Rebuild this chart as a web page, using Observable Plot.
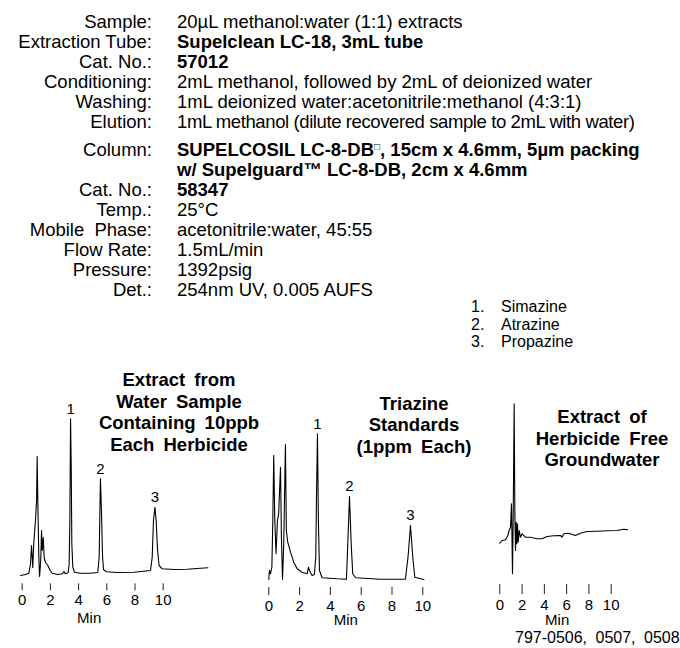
<!DOCTYPE html>
<html>
<head>
<meta charset="utf-8">
<script src="https://cdn.jsdelivr.net/npm/d3@7"></script>
<script src="https://cdn.jsdelivr.net/npm/@observablehq/plot@0.6"></script>
<style>
  html, body { margin: 0; padding: 0; background: #fff; }
  #page { position: relative; width: 680px; height: 648px; overflow: hidden;
          font-family: "Liberation Sans", Arial, sans-serif; color: #000; }
  .row { position: absolute; left: 0; width: 680px; height: 20px; line-height: 20px;
         font-size: 18.5px; white-space: nowrap; }
  .lab { position: absolute; left: 0; width: 152px; text-align: right; }
  .val { position: absolute; left: 177px; }
  .b { font-weight: bold; }
  .leg { position: absolute; font-size: 16px; line-height: 17.5px; white-space: nowrap; }
  .title { position: absolute; width: 220px; text-align: center; font-weight: bold;
           font-size: 18.5px; line-height: 21.5px; word-spacing: 4px; }
  .foot { position: absolute; left: 515px; top: 628px; font-size: 16px; line-height: 20px;
          word-spacing: 4px; white-space: nowrap; }
  svg { position: absolute; overflow: visible; }
</style>
</head>
<body>
<div id="page"></div>
<script>
// ---------- header text ----------
const headerLabels = ["Sample:", "Extraction Tube:", "Cat. No.:", "Conditioning:", "Washing:", "Elution:",
  "Column:", "", "Cat. No.:", "Temp.:", "Mobile Phase:", "Flow Rate:", "Pressure:", "Det.:"];
const headerValues = ["20µL methanol:water (1:1) extracts", "Supelclean LC-18, 3mL tube", "57012",
  "2mL methanol, followed by 2mL of deionized water", "1mL deionized water:acetonitrile:methanol (4:3:1)",
  "1mL methanol (dilute recovered sample to 2mL with water)",
  "SUPELCOSIL LC-8-DB|□|, 15cm x 4.6mm, 5µm packing", "w/ Supelguard™ LC-8-DB, 2cm x 4.6mm", "58347",
  "25°C", "acetonitrile:water, 45:55", "1.5mL/min", "1392psig", "254nm UV, 0.005 AUFS"];
const headerBold = [false, true, true, false, false, false, true, true, true, false, false, false, false, false];

const legendNumbers = ["1.", "2.", "3."];
const legendNames = ["Simazine", "Atrazine", "Propazine"];

const panelTitles = [
  ["Extract from", "Water Sample", "Containing 10ppb", "Each Herbicide"],
  ["Triazine", "Standards", "(1ppm Each)"],
  ["Extract of", "Herbicide Free", "Groundwater"]
];
const footnote = "797-0506, 0507, 0508";
const axisTicks = [0, 2, 4, 6, 8, 10];
const axisLabel = "Min";

// ---------- chromatogram data (time in min, detector response in arbitrary units) ----------
const p1Time = [-0.12,0.24,0.47,0.59,0.66,0.71,0.75,0.82,0.94,1.02,1.06,1.11,1.18,1.23,1.28,1.32,1.37,1.42,1.49,1.56,1.65,1.82,1.96,2.13,2.49,2.84,2.96,3.05,3.26,3.33,3.38,3.43,3.48,3.52,3.59,3.71,4.13,4.84,5.36,5.46,5.51,5.55,5.62,5.70,5.77,5.98,6.74,7.92,9.10,9.22,9.31,9.41,9.50,9.60,9.71,9.93,10.75,11.70,12.64,13.17];
const p1Resp = [-1,0,1.3,10.7,29,17,7,30.7,54,74,118,70.7,17.3,-2,7,17,44,24,37,17,12,9,4.7,1.3,0,0.7,3,0.7,1.7,10.7,54,155.7,104,30.7,7.3,2.3,1.3,1.3,2,17.3,64,95.7,64,17.3,4.7,2.7,2,2.3,4,17.3,54,67.3,54,24,9,5.7,5,5.3,6.3,6.7];
const p1PeakTime = [3.43, 5.55, 9.41];
const p1PeakResp = [155.7, 95.7, 67.3];

const p2Time = [0.00,0.04,0.11,0.20,0.26,0.32,0.39,0.47,0.56,0.64,0.76,0.82,0.89,0.97,1.08,1.14,1.23,1.41,1.62,1.84,2.16,2.49,2.58,2.64,2.81,2.96,3.05,3.09,3.16,3.22,3.29,3.46,4.44,5.04,5.13,5.24,5.35,5.45,5.63,7.25,8.87,9.04,9.20,9.35,9.48,10.07];
const p2Resp = [0,9,5.7,12.3,59,124,59,25.7,59,65.7,112.3,42.3,0,35.7,135,49,37.3,27.3,17.3,10.7,7.3,5.7,12.3,9,4,5,22.3,75.7,145.7,59,9,1.7,0.7,0.3,35.7,83,35.7,5.7,1.7,0.3,0.3,22.3,54,22.3,2.3,0];
const p2PeakTime = [3.16, 5.24, 9.20];
const p2PeakResp = [145.7, 83, 54];

const p3Time = [0.00,0.21,0.51,0.72,0.84,0.96,1.05,1.14,1.20,1.29,1.35,1.41,1.47,1.53,1.59,1.65,1.74,1.85,2.00,2.30,2.75,3.34,3.79,4.24,4.84,5.44,5.59,5.74,6.19,6.79,7.24,7.83,8.73,9.63,10.52,11.12,11.48];
const p3Resp = [-2.7,0,0.7,5,10,13.3,36.7,-33.3,20,136.7,30,-10,18.3,-3.3,16.7,-1.7,10,3.3,6.7,3.3,3.3,1.7,1.7,4,4.7,5,3.3,6.7,7.3,5,7.3,9,9.3,9.7,10,11.3,10.7];

const peakNames = ["1", "2", "3"];

// ---------- build page ----------
const page = document.getElementById("page");
const rowTops = headerLabels.map((_, i) => 11.7 + i * 20 + (i >= 6 ? 8.3 : 0));
const rowLetterSpacing = [0, 0, 0, 0, 0, -0.4, 0, 0, 0, 0, 0, 0, 0, 0];
const labelWordSpacing = [0, 0, 0, 0, 0, 0, 0, 0, 0, 0, 5, 0, 0, 0];

headerLabels.forEach((lab, i) => {
  const row = document.createElement("div");
  row.className = "row";
  row.style.top = rowTops[i] + "px";
  const l = document.createElement("span");
  l.className = "lab";
  l.textContent = lab;
  l.style.wordSpacing = labelWordSpacing[i] + "px";
  const v = document.createElement("span");
  v.className = "val" + (headerBold[i] ? " b" : "");
  v.style.letterSpacing = rowLetterSpacing[i] + "px";
  const parts = headerValues[i].split("|");
  parts.forEach((p, k) => {
    if (k === 1) {
      const s = document.createElement("sup");
      s.textContent = p;
      s.style.fontSize = "10px";
      s.style.fontWeight = "normal";
      s.style.verticalAlign = "6px";
      s.style.lineHeight = "0";
      v.appendChild(s);
    } else {
      v.appendChild(document.createTextNode(p));
    }
  });
  row.appendChild(l);
  row.appendChild(v);
  page.appendChild(row);
});

legendNumbers.forEach((n, i) => {
  const top = 298 + i * 17.5;
  const a = document.createElement("div");
  a.className = "leg"; a.style.left = "471px"; a.style.top = top + "px"; a.textContent = n;
  const b = document.createElement("div");
  b.className = "leg"; b.style.left = "501px"; b.style.top = top + "px"; b.textContent = legendNames[i];
  page.appendChild(a); page.appendChild(b);
});

const titleCenters = [179, 414, 602];
const titleTops = [369.3, 392.5, 406];
panelTitles.forEach((lines, i) => {
  const d = document.createElement("div");
  d.className = "title";
  d.style.left = (titleCenters[i] - 110) + "px";
  d.style.top = titleTops[i] + "px";
  lines.forEach((s, k) => {
    if (k) d.appendChild(document.createElement("br"));
    d.appendChild(document.createTextNode(s));
  });
  page.appendChild(d);
});

const foot = document.createElement("div");
foot.className = "foot";
foot.textContent = footnote;
page.appendChild(foot);

// ---------- chromatograms ----------
function toRows(ts, rs, names) {
  return ts.map((t, i) => ({t, r: rs[i], n: names ? names[i] : null}));
}

const panels = [
  {trace: toRows(p1Time, p1Resp), peaks: toRows(p1PeakTime, p1PeakResp, peakNames),
   left: 0, top: 370, w: 230, h: 260, x0: 21.7, x10: 162.7, base: 204, mb: 46.7, ts: 7, tp: 4, mdy: 34, mx: 4.75},
  {trace: toRows(p2Time, p2Resp), peaks: toRows(p2PeakTime, p2PeakResp, peakNames),
   left: 230, top: 370, w: 230, h: 260, x0: 38.3, x10: 192.3, base: 209, mb: 43, ts: 8, tp: 5, mdy: 33, mx: 5},
  {trace: toRows(p3Time, p3Resp), peaks: [],
   left: 460, top: 370, w: 220, h: 278, x0: 39.3, x10: 150.7, base: 170, mb: 64, ts: 10, tp: 5, mdy: 36, mx: 5.15}
];

panels.forEach(cfg => {
  const svg = Plot.plot({
    width: cfg.w,
    height: cfg.h,
    marginTop: 0, marginLeft: 0, marginRight: 0, marginBottom: cfg.mb,
    style: {fontFamily: '"Liberation Sans", Arial, sans-serif', fontSize: "15px", background: "transparent", color: "#000", overflow: "visible"},
    x: {domain: [0, 10], range: [cfg.x0, cfg.x10]},
    y: {domain: [0, 100], range: [cfg.base, cfg.base - 100], axis: null},
    marks: [
      Plot.axisX(axisTicks, {tickSize: cfg.ts, tickPadding: cfg.tp, tickFormat: d => String(d), label: null, stroke: "#222", fontSize: 15}),
      Plot.line(cfg.trace, {x: "t", y: "r", stroke: "#000", strokeWidth: 1.1, curve: "linear"}),
      Plot.text(cfg.peaks, {x: "t", y: "r", text: "n", dy: -10, fontSize: 15}),
      Plot.text([axisLabel], {x: () => cfg.mx, frameAnchor: "bottom", lineAnchor: "middle", dy: cfg.mdy, fontSize: 15})
    ]
  });
  svg.style.left = cfg.left + "px";
  svg.style.top = cfg.top + "px";
  page.appendChild(svg);
});
</script>
</body>
</html>
